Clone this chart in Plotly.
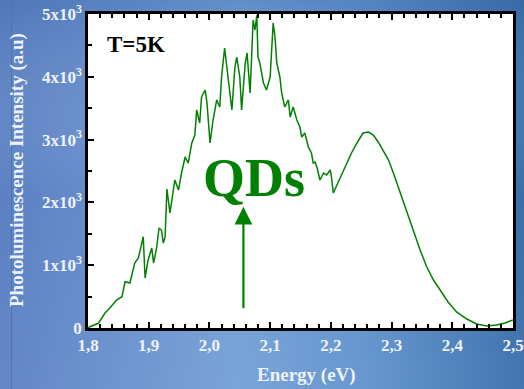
import base64
import plotly.graph_objects as go

# ---- data ----
energy_ev = [1.800, 1.803, 1.817, 1.828, 1.836, 1.847, 1.856, 1.861, 1.869, 1.877,
             1.883, 1.891, 1.894, 1.899, 1.905, 1.908, 1.913, 1.917, 1.921, 1.924,
             1.927, 1.930, 1.935, 1.940, 1.943, 1.949, 1.954, 1.960, 1.965, 1.971,
             1.976, 1.979, 1.984, 1.987, 1.993, 1.996, 1.998, 2.001, 2.006, 2.012,
             2.017, 2.020, 2.025, 2.028, 2.034, 2.037, 2.042, 2.045, 2.050, 2.053,
             2.059, 2.062, 2.067, 2.072, 2.075, 2.078, 2.080, 2.083, 2.089, 2.094,
             2.100, 2.105, 2.108, 2.111, 2.116, 2.119, 2.124, 2.130, 2.133, 2.138,
             2.144, 2.149, 2.152, 2.157, 2.163, 2.168, 2.171, 2.174, 2.177, 2.182,
             2.188, 2.193, 2.199, 2.201, 2.204, 2.210, 2.218, 2.226, 2.234, 2.243,
             2.253, 2.262, 2.270, 2.278, 2.286, 2.295, 2.303, 2.311, 2.319, 2.328,
             2.339, 2.347, 2.358, 2.369, 2.380, 2.393, 2.407, 2.424, 2.440, 2.457,
             2.473, 2.487, 2.500]
pl_intensity = [0, 21, 75, 239, 318, 446, 498, 737, 716, 1035,
                1114, 1453, 796, 1083, 1274, 1035, 1274, 1592, 1560, 1353,
                1449, 2213, 1831, 2117, 2356, 2197, 2468, 2723, 2627, 2946,
                3073, 3471, 3264, 3678, 3790, 3582, 3360, 2946, 3312, 3631,
                3519, 3997, 4459, 4219, 3742, 3471, 4156, 4315, 3997, 3471,
                4219, 4379, 3742, 4904, 4745, 4980, 4315, 4219, 3902, 3790,
                3997, 4857, 4634, 4219, 3997, 3742, 3519, 3631, 3360, 3519,
                3312, 3201, 3041, 3105, 2882, 2787, 2627, 2643, 2564, 2357,
                2468, 2436, 2516, 2404, 2150, 2277, 2436, 2595, 2787, 2946,
                3105, 3121, 3073, 2962, 2834, 2675, 2468, 2245, 2038, 1752,
                1449, 1242, 971, 764, 605, 414, 255, 143, 64, 32,
                48, 80, 127]

x_tick_vals = [1.8, 1.9, 2.0, 2.1, 2.2, 2.3, 2.4, 2.5]
x_tick_text = ["1,8", "1,9", "2,0", "2,1", "2,2", "2,3", "2,4", "2,5"]
y_tick_vals = [0, 1000, 2000, 3000, 4000, 5000]
y_tick_text = ["0", "1x10<sup>3</sup>", "2x10<sup>3</sup>", "3x10<sup>3</sup>",
               "4x10<sup>3</sup>", "5x10<sup>3</sup>"]

W, H = 524, 389
ML, MR, MT, MB = 88, 11, 14, 61
PW, PH = W - ML - MR, H - MT - MB

SERIF = "Liberation Serif, Times New Roman, serif"
LABEL = "#eef3fb"
GREEN = "#008000"

# blue gradient background as an inline SVG
svg = f'''<svg xmlns="http://www.w3.org/2000/svg" width="{W}" height="{H}">
<defs>
<linearGradient id="g" x1="0" y1="0" x2="1" y2="0">
<stop offset="0" stop-color="#5b80c3"/>
<stop offset="0.45" stop-color="#73a0d6"/>
<stop offset="0.7" stop-color="#5f92cc"/>
<stop offset="1" stop-color="#3a6fab"/>
</linearGradient>
<linearGradient id="v" x1="0" y1="0" x2="0" y2="1">
<stop offset="0" stop-color="#2a5a9a" stop-opacity="0.25"/>
<stop offset="0.5" stop-color="#ffffff" stop-opacity="0"/>
<stop offset="1" stop-color="#ffffff" stop-opacity="0.05"/>
</linearGradient>
</defs>
<rect width="{W}" height="{H}" fill="url(#g)"/>
<rect width="{W}" height="{H}" fill="url(#v)"/>
<line x1="11.5" y1="0" x2="11.5" y2="{H}" stroke="#4f75b0" stroke-width="1"/>
</svg>'''
src = "data:image/svg+xml;base64," + base64.b64encode(svg.encode()).decode()

fig = go.Figure()
fig.add_trace(go.Scatter(x=energy_ev, y=pl_intensity, mode="lines",
                         line=dict(color=GREEN, width=1.5), hoverinfo="skip"))

fig.add_layout_image(dict(source=src, xref="paper", yref="paper",
                          x=-ML / PW, y=1 + MT / PH, sizex=W / PW, sizey=H / PH,
                          xanchor="left", yanchor="top", sizing="stretch",
                          layer="below"))
fig.add_shape(type="rect", xref="paper", yref="paper", x0=0, x1=1, y0=0, y1=1,
              fillcolor="white", line=dict(width=0), layer="below")

fig.update_layout(
    width=W, height=H,
    margin=dict(l=ML, r=MR, t=MT, b=MB),
    paper_bgcolor="#5f8fcc", plot_bgcolor="white",
    showlegend=False,
    xaxis=dict(range=[1.8, 2.5], tickvals=x_tick_vals, ticktext=x_tick_text,
               automargin=False,
               ticks="inside", ticklen=6, tickwidth=2, tickcolor="black",
               showline=True, linecolor="black", linewidth=2.5, mirror="allticks",
               showgrid=False, zeroline=False,
               minor=dict(dtick=0.02, tick0=1.8, ticks="inside", ticklen=4,
                          tickwidth=1.5, tickcolor="black", showgrid=False),
               tickfont=dict(family=SERIF, size=17, color=LABEL, weight="bold")),
    yaxis=dict(range=[0, 5000], tickvals=y_tick_vals, ticktext=y_tick_text,
               automargin=False,
               ticks="inside", ticklen=6, tickwidth=2, tickcolor="black",
               showline=True, linecolor="black", linewidth=2.5, mirror=True,
               showgrid=False, zeroline=False,
               minor=dict(dtick=500, tick0=0, ticks="inside", ticklen=4,
                          tickwidth=1.5, tickcolor="black", showgrid=False),
               tickfont=dict(family=SERIF, size=17, color=LABEL, weight="bold")),
    annotations=[
        dict(text="Photoluminescence Intensity (a.u)", xref="paper", yref="paper",
             x=(17 - ML) / PW, y=(H - MB - 170) / PH, textangle=-90,
             xanchor="center", yanchor="middle", showarrow=False,
             font=dict(family=SERIF, size=19, color=LABEL, weight="bold")),
        dict(text="Energy (eV)", xref="paper", yref="paper",
             x=(306 - ML) / PW, y=-(375 - (H - MB)) / PH,
             xanchor="center", yanchor="middle", showarrow=False,
             font=dict(family=SERIF, size=19, color=LABEL, weight="bold")),
        dict(text="T=5K", xref="paper", yref="paper",
             x=(105 - ML) / PW, y=(H - MB - 45) / PH,
             xanchor="left", yanchor="middle", showarrow=False,
             font=dict(family=SERIF, size=23, color="black", weight="bold")),
        dict(text="QDs", xref="paper", yref="paper",
             x=(254 - ML) / PW, y=(H - MB - 178) / PH,
             xanchor="center", yanchor="middle", showarrow=False,
             font=dict(family=SERIF, size=54, color=GREEN, weight="bold")),
        dict(text="", x=2.056, y=1930, ax=2.056, ay=290,
             xref="x", yref="y", axref="x", ayref="y",
             showarrow=True, arrowhead=2, arrowsize=1.6, arrowwidth=2.2,
             arrowcolor=GREEN),
    ],
)

fig.write_html("out.html", config={"displayModeBar": False},
               post_script="document.body.style.margin='0';document.body.style.overflow='hidden';")
